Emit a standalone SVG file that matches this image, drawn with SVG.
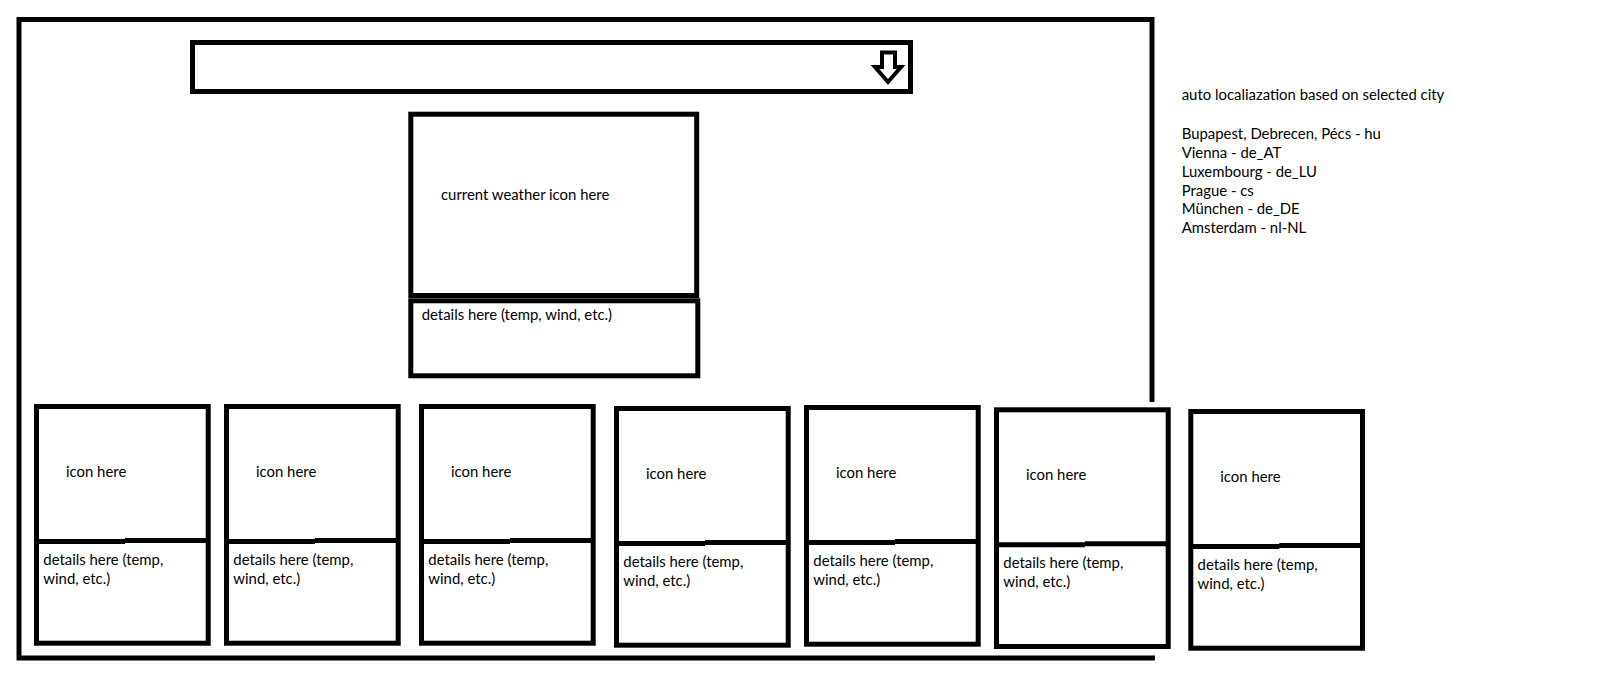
<svg xmlns="http://www.w3.org/2000/svg" width="1607" height="690" viewBox="0 0 1607 690">
  <style>
    .line { fill: none; stroke: #000; stroke-width: 5; stroke-linejoin: miter; }
    .txt { font-family: Lato, "Open Sans", sans-serif; font-size: 14.9px; fill: #000; }
  </style>
  <defs>
    <!-- forecast tile: icon area on top, details area below -->
    <g id="tile">
      <rect class="line" x="0" y="0" width="171.7" height="236.7"/>
      <path class="line" d="M0 135 H88.5 M88.5 134 H171.7"/>
      <text class="txt" x="29.5" y="70.3">icon here</text>
      <text class="txt" x="6.8" y="158.3">details here (temp,</text>
      <text class="txt" x="6.8" y="177.6">wind, etc.)</text>
    </g>
  </defs>
  <rect width="1607" height="690" fill="#fff"/>

  <!-- page frame, open on the lower right -->
  <g id="frame">
    <path class="line" d="M1152 402 V19.5 H19 V658 H1155"/>
  </g>

  <!-- city selector dropdown -->
  <g id="dropdown">
    <rect class="line" x="192.5" y="42.5" width="718" height="49"/>
    <polygon points="882,52.5 895,52.5 895,67 901,67 888,82 875,67 882,67" fill="none" stroke="#000" stroke-width="4" stroke-linejoin="miter"/>
  </g>

  <!-- current weather panel -->
  <g id="current">
    <rect class="line" x="410.8" y="114.2" width="285.9" height="181.3"/>
    <rect class="line" x="410.8" y="300.8" width="287" height="75"/>
    <text class="txt" x="441" y="199.8">current weather icon here</text>
    <text class="txt" x="421.7" y="319.8">details here (temp, wind, etc.)</text>
  </g>

  <!-- localization notes -->
  <g id="notes" class="txt">
    <text x="1181.7" y="100">auto localiazation based on selected city</text>
    <text x="1181.7" y="139.2">Bupapest, Debrecen, Pécs - hu</text>
    <text x="1181.7" y="158">Vienna - de_AT</text>
    <text x="1181.7" y="176.8">Luxembourg - de_LU</text>
    <text x="1181.7" y="195.6">Prague - cs</text>
    <text x="1181.7" y="214.4">München - de_DE</text>
    <text x="1181.7" y="233.2">Amsterdam - nl-NL</text>
  </g>

  <!-- forecast tiles -->
  <g id="day1"><use href="#tile" transform="translate(36.5,406.5)"/></g>
  <g id="day2"><use href="#tile" transform="translate(226.5,406.5)"/></g>
  <g id="day3"><use href="#tile" transform="translate(421.5,406.5)"/></g>
  <g id="day4"><use href="#tile" transform="translate(616.5,408.5)"/></g>
  <g id="day5"><use href="#tile" transform="translate(806.5,407.5)"/></g>
  <g id="day6"><use href="#tile" transform="translate(996.5,409.8)"/></g>
  <g id="day7"><use href="#tile" transform="translate(1190.8,411.5)"/></g>
</svg>
